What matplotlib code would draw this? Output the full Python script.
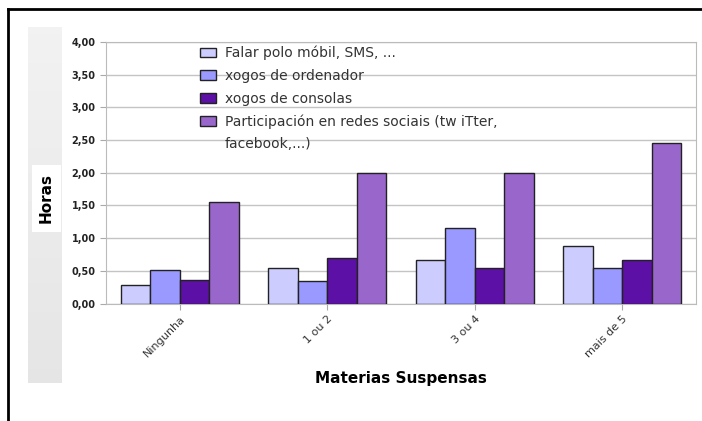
import numpy as np
import matplotlib.pyplot as plt
from matplotlib.patches import Rectangle
from matplotlib.lines import Line2D

# data
categories = ["Ningunha", "1 ou 2", "3 ou 4", "mais de 5"]
series_names = ["Falar polo móbil, SMS, ...",
                "xogos de ordenador",
                "xogos de consolas",
                "Participación en redes sociais (tw iTter,"]
legend_extra = "facebook,...)"
movil = [0.29, 0.54, 0.66, 0.88]
ordenador = [0.51, 0.34, 1.15, 0.54]
consolas = [0.36, 0.69, 0.54, 0.66]
redes = [1.56, 1.99, 1.99, 2.46]
yticks = [0, 0.5, 1, 1.5, 2, 2.5, 3, 3.5, 4]
ytick_labels = ["0,00", "0,50", "1,00", "1,50", "2,00", "2,50", "3,00", "3,50", "4,00"]
colors = ["#ccccff", "#9999ff", "#5c10a6", "#9966cc"]

fig = plt.figure(figsize=(7.02, 4.21), dpi=100)

# outer frame lines (top and left) and gray side panel
fig.add_artist(Line2D([8/702, 1], [1 - 9/421, 1 - 9/421], color="black", lw=2))
fig.add_artist(Line2D([8/702, 8/702], [0, 1 - 9/421], color="black", lw=2))
# side panel, slightly lighter towards the top
grad = np.linspace(0.95, 0.90, 100).reshape(-1, 1)
pax = fig.add_axes([28/702, 1 - 383/421, 33/702, 356/421])
pax.imshow(np.dstack([grad, grad, grad]), aspect="auto",
           extent=[0, 1, 0, 1], origin="upper")
pax.axis("off")
fig.add_artist(Rectangle((32/702, 1 - 232/421), 29/702, 67/421,
                         facecolor="white", edgecolor="none", zorder=5))
fig.text(46/702, 1 - 198/421, "Horas", rotation=90, ha="center", va="center",
         fontsize=11, fontweight="bold", zorder=6)

ax = fig.add_axes([106/702, 1 - 303.5/421, 590/702, 261.5/421])

x = np.arange(len(categories))
w = 0.2
all_series = [movil, ordenador, consolas, redes]
for i, vals in enumerate(all_series):
    ax.bar(x + (i - 1.5) * w, vals, width=w, color=colors[i],
           edgecolor="#222222", linewidth=1, label=series_names[i], zorder=3)

ax.set_xlim(-0.5, 3.5)
ax.set_ylim(0, 4)
ax.set_yticks(yticks)
ax.set_yticklabels(ytick_labels, fontsize=7, fontweight="bold", color="#222222")
ax.set_xticks(x)
ax.set_xticklabels(categories, rotation=45, ha="right", rotation_mode="anchor",
                   fontsize=8, color="#333333")
ax.tick_params(axis="both", color="#aaaaaa", length=4)
ax.grid(axis="y", color="#c4c4c4", linewidth=1, zorder=0)
for s in ax.spines.values():
    s.set_color("#bbbbbb")
ax.set_xlabel("Materias Suspensas", fontsize=11, fontweight="bold", labelpad=8)

# legend: second line of the last label as an entry without a handle
handles, labels = ax.get_legend_handles_labels()
handles.append(Rectangle((0, 0), 1, 1, alpha=0))
labels.append(legend_extra)
leg = ax.legend(handles, labels, loc="upper left", bbox_to_anchor=(0.159, 0.985),
                frameon=False, fontsize=10, handlelength=1.2, handleheight=0.7,
                labelspacing=0.62, handletextpad=0.6, borderpad=0, borderaxespad=0)
for t in leg.get_texts():
    t.set_color("#333333")

plt.savefig("out.png", dpi=100)
